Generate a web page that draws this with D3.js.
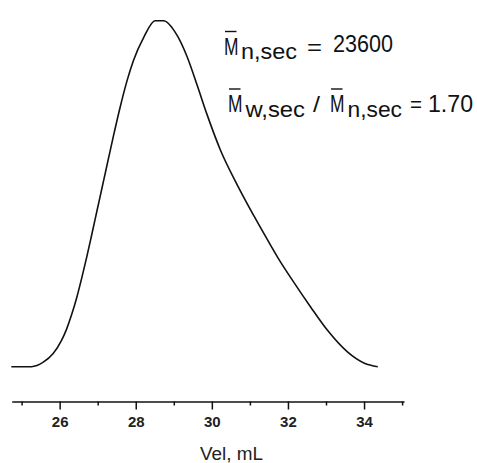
<!DOCTYPE html>
<html>
<head>
<meta charset="utf-8">
<script src="https://cdn.jsdelivr.net/npm/d3@7"></script>
<style>
  body { margin: 0; background: #fff; }
  svg { display: block; font-family: "Liberation Sans", Arial, sans-serif; }
</style>
</head>
<body>
<div id="chart"></div>
<script>
// elution volume (mL) and normalised detector signal
var elutionVolume = [24.73, 25.26, 25.57, 25.83, 26.05, 26.18, 26.32, 26.45, 26.58, 26.71, 26.84, 26.98,
	27.11, 27.24, 27.41, 27.59, 27.77, 27.94, 28.21, 28.51, 28.73, 29.08, 29.35, 29.61, 29.87,
	30.23, 30.67, 31.11, 31.55, 31.73, 32.16, 32.60, 33.04, 33.57, 34.01, 34.36];
var detectorSignal = [0, 0, 0.013, 0.038, 0.076, 0.108, 0.152, 0.2, 0.256, 0.316, 0.38, 0.45,
	0.515, 0.58, 0.665, 0.75, 0.826, 0.885, 0.952, 1.0, 1.0, 0.959, 0.896, 0.815, 0.73,
	0.625, 0.525, 0.435, 0.35, 0.316, 0.243, 0.172, 0.105, 0.042, 0.01, 0];

var majorTicks = [26, 28, 30, 32, 34];
var minorTicks = [25, 27, 29, 31, 33, 35];
var axisTitle = "Vel, mL";

var mnValue = "23600";
var dispersity = "1.70";

var width = 477, height = 463;

var svg = d3.select("#chart")
	.append("svg")
	.attr("width", width)
	.attr("height", height);

var x = d3.scaleLinear().domain([24.74, 35.05]).range([11.7, 404]);
var y = d3.scaleLinear().domain([0, 1]).range([366.7, 20.7]);

var points = elutionVolume.map(function(v, i) { return [v, detectorSignal[i]]; });

var line = d3.line()
	.x(function(d) { return x(d[0]); })
	.y(function(d) { return y(d[1]); })
	.curve(d3.curveMonotoneX);

svg.append("path")
	.datum(points)
	.attr("d", line)
	.attr("fill", "none")
	.attr("stroke", "#111")
	.attr("stroke-width", 1.6);

// x axis: minor ticks first, then labelled major ticks
var axisY = 401.5;

svg.append("g")
	.attr("transform", "translate(0," + axisY + ")")
	.call(d3.axisBottom(x).tickValues(minorTicks).tickSize(4).tickSizeOuter(0).tickFormat(""))
	.call(function(g) {
		g.select(".domain").attr("stroke", "#111").attr("stroke-width", 1.6);
		g.selectAll(".tick line").attr("stroke", "#111").attr("stroke-width", 1.5);
	});

svg.append("g")
	.attr("transform", "translate(0," + axisY + ")")
	.call(d3.axisBottom(x).tickValues(majorTicks).tickSize(8).tickSizeOuter(0).tickPadding(7))
	.call(function(g) {
		g.select(".domain").remove();
		g.selectAll(".tick line").attr("stroke", "#111").attr("stroke-width", 1.5);
		g.selectAll(".tick text")
			.attr("fill", "#222")
			.attr("font-family", "'Liberation Sans', Arial, sans-serif")
			.attr("font-size", 15)
			.attr("font-weight", "bold");
	});

svg.append("text")
	.attr("x", 200)
	.attr("y", 460)
	.attr("font-size", 18)
	.attr("fill", "#222")
	.attr("textLength", 63)
	.attr("lengthAdjust", "spacingAndGlyphs")
	.text(axisTitle);

// annotation: M-bar pieces
function piece(txt, px, py, len, size) {
	svg.append("text")
		.attr("x", px)
		.attr("y", py)
		.attr("font-size", size || 22)
		.attr("fill", "#111")
		.attr("textLength", len)
		.attr("lengthAdjust", "spacingAndGlyphs")
		.text(txt);
}
function bar(x1, x2, py) {
	svg.append("line")
		.attr("x1", x1).attr("x2", x2)
		.attr("y1", py).attr("y2", py)
		.attr("stroke", "#111")
		.attr("stroke-width", 1.4);
}

// line 1
bar(225, 236.5, 31.5);
piece("M", 224, 55, 14.5, 23);
piece("n,sec", 241, 59, 56);
piece("=", 307, 55, 15);
piece(mnValue, 333, 52, 60, 23);

// line 2
bar(229, 240.5, 89);
piece("M", 228, 112, 14.5, 23);
piece("w,sec", 245.5, 116.5, 59.5);
piece("/", 313, 112, 7);
bar(331, 342.5, 89);
piece("M", 330, 112, 14.5, 23);
piece("n,sec", 347.5, 116.5, 54.5);
piece("=", 410, 112, 12);
piece(dispersity, 428, 112, 45, 23);
</script>
</body>
</html>
